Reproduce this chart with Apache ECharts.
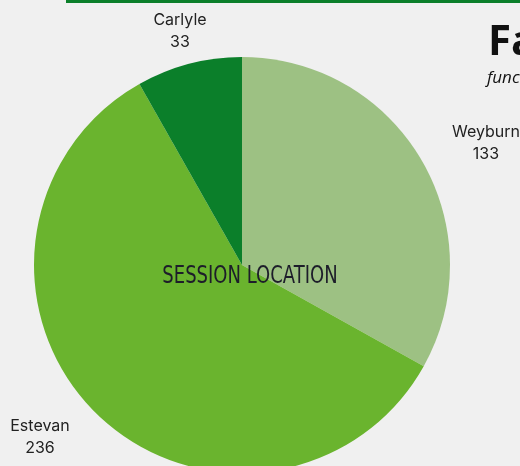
<!DOCTYPE html>
<html>
<head>
<meta charset="utf-8">
<title>Session Location</title>
<script src="https://cdn.jsdelivr.net/npm/echarts@6/dist/echarts.min.js"></script>
<style>
  html, body { margin: 0; padding: 0; background: #f0f0f0; }
  #main { width: 520px; height: 466px; }
</style>
</head>
<body>
<div id="main"></div>
<script type="text/javascript">
// data
var locations = ['Weyburn', 'Estevan', 'Carlyle'];
var sessions = [133, 236, 33];
var sliceColors = ['#9dc183', '#6ab42e', '#0b7f2a'];

// where each label sits (centre of the two-line text)
var labelSpots = [[486, 143], [40, 437], [180, 31]];

var pieData = [];
for (var i = 0; i < locations.length; i++) {
  pieData.push({ name: locations[i], value: sessions[i], itemStyle: { color: sliceColors[i] } });
}

var myChart = echarts.init(document.getElementById('main'));

var option = {
  backgroundColor: '#f0f0f0',
  animation: false,
  graphic: [
    { type: 'rect', shape: { x: 66, y: 0, width: 454, height: 3 }, style: { fill: '#0b7f2a' } },
    {
      type: 'text', left: 488, top: 22,
      style: {
        text: 'Fa', font: 'bold 42px "Open Sans", sans-serif', fill: '#111',
        shadowColor: 'rgba(0,0,0,0.35)', shadowOffsetX: 2, shadowOffsetY: 2, shadowBlur: 1
      }
    },
    {
      type: 'text', left: 487, top: 70,
      style: {
        text: 'func', font: 'italic 17px "Open Sans", sans-serif', fill: '#111',
        shadowColor: 'rgba(0,0,0,0.3)', shadowOffsetX: 1, shadowOffsetY: 1
      }
    },
    {
      type: 'text', x: 250, y: 277, z: 100, scaleX: 0.75,
      style: {
        text: 'SESSION LOCATION', font: '24px "DejaVu Sans", sans-serif',
        fill: '#1d1d2a', align: 'center', verticalAlign: 'middle',
        shadowColor: 'rgba(255,255,255,0.8)', shadowOffsetX: 1, shadowOffsetY: 1
      }
    }
  ],
  series: [
    {
      name: 'Session location',
      type: 'pie',
      center: [242, 265],
      radius: 208,
      startAngle: 90,
      clockwise: true,
      label: {
        show: true,
        position: 'outside',
        formatter: '{b}\n{c}',
        fontFamily: 'Inter, "Noto Sans", sans-serif',
        fontSize: 16,
        lineHeight: 22,
        color: '#222',
        align: 'center',
        overflow: 'none'
      },
      labelLine: { show: false },
      labelLayout: function (params) {
        var p = labelSpots[params.dataIndex];
        return { x: p[0], y: p[1], align: 'center', verticalAlign: 'middle' };
      },
      emphasis: { disabled: true },
      data: pieData
    }
  ]
};

myChart.setOption(option);
</script>
</body>
</html>
